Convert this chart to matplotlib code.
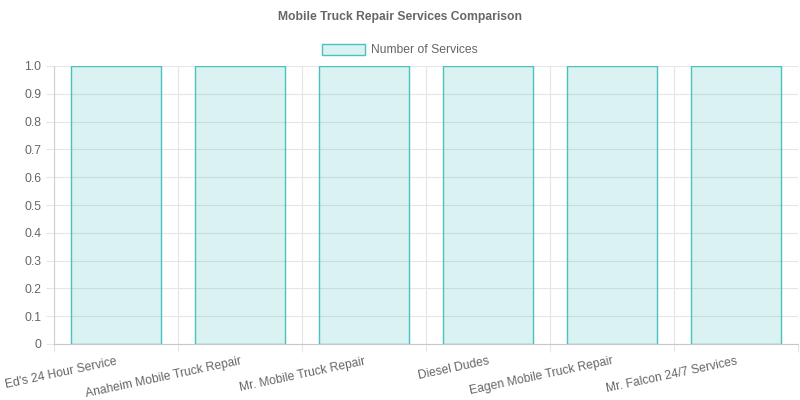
import matplotlib
matplotlib.use('Agg')
import matplotlib.pyplot as plt
import numpy as np

plt.rcParams['font.family'] = ['Liberation Sans', 'DejaVu Sans']

title = 'Mobile Truck Repair Services Comparison'
series_label = 'Number of Services'
companies = ["Ed's 24 Hour Service", 'Anaheim Mobile Truck Repair',
             'Mr. Mobile Truck Repair', 'Diesel Dudes',
             'Eagen Mobile Truck Repair', 'Mr. Falcon 24/7 Services']
services = [1, 1, 1, 1, 1, 1]
yticks = [0, 0.1, 0.2, 0.3, 0.4, 0.5, 0.6, 0.7, 0.8, 0.9, 1.0]
ytick_labels = ['0', '0.1', '0.2', '0.3', '0.4', '0.5', '0.6', '0.7', '0.8', '0.9', '1.0']

text_color = '#666666'
grid_color = '#e6e6e6'
fs = 8.7

fig = plt.figure(figsize=(8, 4), dpi=100)
ax = fig.add_axes([54 / 800, 56 / 400, 744 / 800, 278 / 400])

x = np.arange(len(companies))
ax.bar(x, services, width=0.72, color=(75 / 255, 192 / 255, 192 / 255, 0.2),
       edgecolor=(75 / 255, 192 / 255, 192 / 255), linewidth=1, label=series_label,
       zorder=3)

ax.set_xlim(-0.5, len(companies) - 0.5)
ax.set_ylim(0, 1.0)

ax.set_xticks(x)
ax.set_xticklabels(companies, rotation=12, ha='right', rotation_mode='anchor',
                   fontsize=fs, color=text_color)
ax.set_xticks(np.arange(-0.5, len(companies)), minor=True)
ax.tick_params(axis='x', which='major', length=0, pad=8)
ax.tick_params(axis='x', which='minor', length=6, color=grid_color, width=0.8)

ax.set_yticks(yticks)
ax.set_yticklabels(ytick_labels, fontsize=fs, color=text_color)
ax.tick_params(axis='y', length=6, color=grid_color, width=0.8, pad=3)

ax.grid(True, which='minor', axis='x', color=grid_color, linewidth=0.8, zorder=0)
ax.grid(True, which='major', axis='y', color=grid_color, linewidth=0.8, zorder=0)

for side in ['top', 'right']:
    ax.spines[side].set_visible(False)
ax.spines['left'].set_color('#d0d0d0')
ax.spines['bottom'].set_color('#c8c8c8')
ax.spines['left'].set_linewidth(0.8)
ax.spines['bottom'].set_linewidth(0.8)

fig.text(0.5, 1 - 17 / 400, title, ha='center', va='center', fontsize=fs,
         fontweight='bold', color=text_color)

leg = fig.legend(loc='center', bbox_to_anchor=(0.5, 1 - 50 / 400), frameon=False,
                 fontsize=fs, handlelength=3.5, handleheight=1.0, handletextpad=0.5,
                 labelcolor=text_color)

fig.savefig('out.png', dpi=100)
